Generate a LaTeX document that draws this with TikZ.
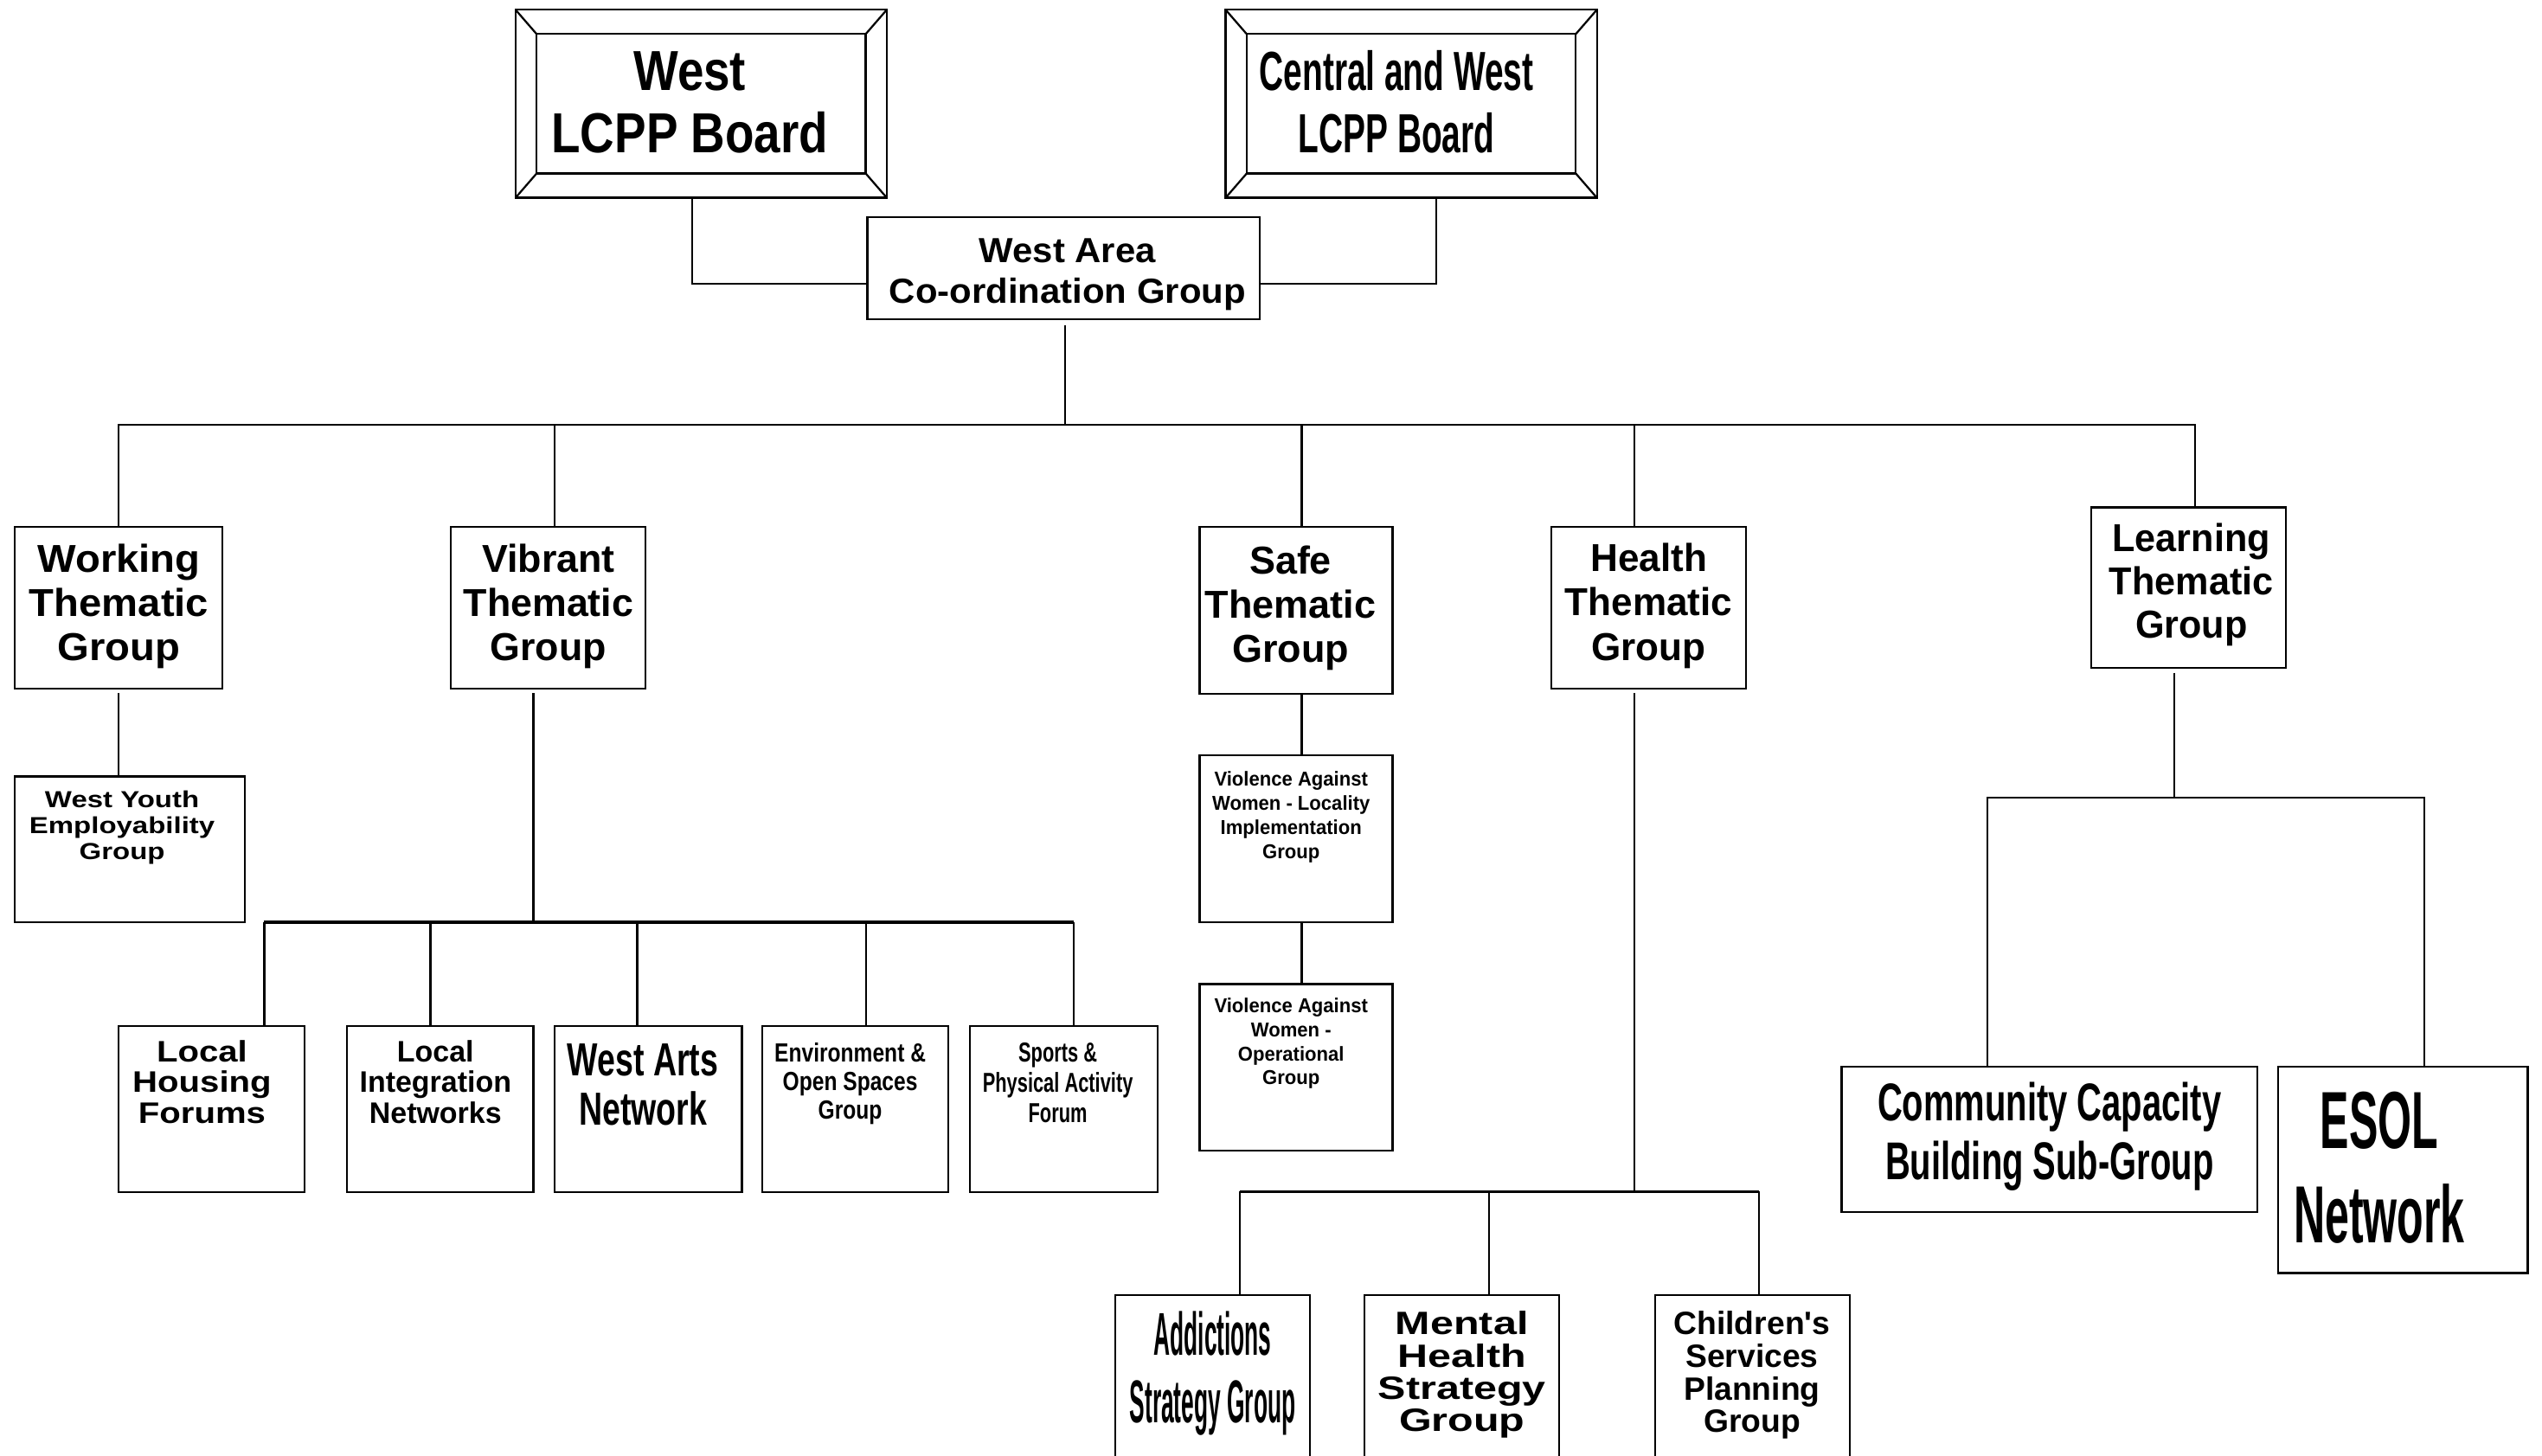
\documentclass[tikz,border=0pt]{standalone}
\usepackage{fontspec}
\setmainfont{Liberation Sans}[Ligatures=TeXOff]
\usetikzlibrary{fit}
% label font: size, horizontal stretch, line distance
\newcommand\lbl[3]{\bfseries\addfontfeatures{FakeStretch=#2}\fontsize{#1}{#3}\selectfont}
% centred lines whose baseline is the first line
\newcommand\stk[1]{\begin{tabular}[t]{@{}c@{}}#1\end{tabular}}
\begin{document}
\begin{tikzpicture}[x=1pt,y=-1pt,
  box/.style={draw, line width=1.2pt, inner sep=0pt, outer sep=0pt, rectangle},
  wire/.style={line width=1.2pt},
  thickwire/.style={line width=1.8pt},
  txt/.style={inner sep=0pt, outer sep=0pt, anchor=base}]
\fill[white] (0,0) rectangle (1568,898);
\useasboundingbox (0,0) rectangle (1568,898);
\clip (0,0) rectangle (1568,898);

% ---- boards with bevelled frames
\node[box, fit={(318,6) (547,122)}] (wb) {};
\node[box, fit={(331,21) (534,107)}] (wbi) {};
\draw[wire] (wb.north west) -- (wbi.north west) (wb.north east) -- (wbi.north east)
            (wb.south west) -- (wbi.south west) (wb.south east) -- (wbi.south east);
\node[txt, font=\lbl{34.8}{0.84}{38.3}] (wbt) at (425.5,56) {\stk{West\\LCPP Board}};

\node[box, fit={(756,6) (985,122)}] (cb) {};
\node[box, fit={(769,21) (972,107)}] (cbi) {};
\draw[wire] (cb.north west) -- (cbi.north west) (cb.north east) -- (cbi.north east)
            (cb.south west) -- (cbi.south west) (cb.south east) -- (cbi.south east);
\node[txt, font=\lbl{34}{0.61}{38.3}] (cbt) at (861.4,56) {\stk{Central and West\\LCPP Board}};

% ---- co-ordination group
\node[box, fit={(535,134) (777,197)}] (wacg) {};
\node[txt, font=\lbl{21.5}{1.04}{24.9}] (wacgt) at (658.5,161.9) {\stk{West Area\\Co-ordination Group}};

% ---- thematic groups
\node[box, fit={(9,325) (137,425)}] (wtg) {};
\node[txt, font=\lbl{24}{1.05}{27.2}] (wtgt) at (73.4,353.1) {\stk{Working\\Thematic\\Group}};
\node[box, fit={(278,325) (398,425)}] (vtg) {};
\node[txt, font=\lbl{24}{0.995}{27.2}] (vtgt) at (338.3,353.1) {\stk{Vibrant\\Thematic\\Group}};
\node[box, fit={(740,325) (859,428)}] (stg) {};
\node[txt, font=\lbl{24}{1.0}{27.2}] (stgt) at (796,354) {\stk{Safe\\Thematic\\Group}};
\node[box, fit={(957,325) (1077,425)}] (htg) {};
\node[txt, font=\lbl{24}{0.98}{27.5}] (htgt) at (1017,352.3) {\stk{Health\\Thematic\\Group}};
\node[box, fit={(1290,313) (1410,412)}] (ltg) {};
\node[txt, font=\lbl{24}{0.96}{26.6}] (ltgt) at (1351.7,340.3) {\stk{Learning\\Thematic\\Group}};

% ---- sub-groups
\node[box, fit={(9,479) (151,569)}] (wyeg) {};
\node[txt, font=\lbl{14.3}{1.23}{16}] (wyegt) at (75.3,498.1) {\stk{West Youth\\Employability\\Group}};

\node[box, fit={(740,466) (859,569)}] (val) {};
\node[txt, font=\lbl{12.4}{0.95}{14.8}] (valt) at (796.4,485.1) {\stk{Violence Against\\Women - Locality\\Implementation\\Group}};
\node[box, fit={(740,607) (859,710)}] (vao) {};
\node[txt, font=\lbl{12.4}{0.95}{14.8}] (vaot) at (796.4,624.7) {\stk{Violence Against\\Women -\\Operational\\Group}};

\node[box, fit={(73,632.8) (188,735.5)}] (lhf) {};
\node[txt, font=\lbl{18.3}{1.17}{19}] (lhft) at (124.6,655) {\stk{Local\\Housing\\Forums}};
\node[box, fit={(214,632.8) (329,735.5)}] (lin) {};
\node[txt, font=\lbl{18.3}{0.99}{19}] (lint) at (268.6,655) {\stk{Local\\Integration\\Networks}};
\node[box, fit={(342,632.8) (457.7,735.5)}] (wan) {};
\node[txt, font=\lbl{28.6}{0.70}{30.6}] (want) at (396.6,663.6) {\stk{West Arts\\Network}};
\node[box, fit={(470,632.8) (585,735.5)}] (eos) {};
\node[txt, font=\lbl{16.2}{0.81}{17.5}] (eost) at (524.4,655.2) {\stk{Environment \&\\Open Spaces\\Group}};
\node[box, fit={(598.3,632.8) (713.9,735.5)}] (spa) {};
\node[txt, font=\lbl{16.9}{0.69}{18.8}] (spat) at (652.5,655) {\stk{Sports \&\\Physical Activity\\Forum}};

\node[box, fit={(1136,658) (1392.3,747.8)}] (ccb) {};
\node[txt, font=\lbl{32.8}{0.65}{36}] (ccbt) at (1264.2,691.5) {\stk{Community Capacity\\Building Sub-Group}};
\node[box, fit={(1405.2,658) (1559.2,785.3)}] (esol) {};
\node[txt, font=\lbl{50}{0.535}{57.9}] (esolt) at (1467.6,708.7) {\stk{ESOL\\Network}};

\node[box, fit={(688,799.1) (808.2,920)}] (asg) {};
\node[txt, font=\lbl{37.3}{0.377}{41.8}] (asgt) at (748,836.1) {\stk{Addictions\\Strategy Group}};
\node[box, fit={(841.8,799.1) (961.8,920)}] (mhsg) {};
\node[txt, font=\lbl{19.9}{1.3}{19.5}] (mhsgt) at (901.8,823) {\stk{Mental\\Health\\Strategy\\Group}};
\node[box, fit={(1020.8,799.1) (1141,920)}] (cspg) {};
\node[txt, font=\lbl{19.9}{1.0}{19.5}] (cspgt) at (1080.7,823) {\stk{Children's\\Services\\Planning\\Group}};

% ---- bus levels
\coordinate (bus1) at (0,262);
\coordinate (bus2) at (0,569);
\coordinate (bus3) at (0,735);
\coordinate (bus4) at (0,492);

% ---- connectors
\draw[wire] ([xshift=-5.5pt]wb.south) |- ([yshift=-9.5pt]wacg.west);
\draw[wire] ([xshift=15.5pt]cb.south) |- ([yshift=-9.5pt]wacg.east);
\draw[wire, shorten <=3.5pt] ([xshift=1pt]wacg.south) -- ([xshift=1pt]wacg.south |- bus1);

\draw[wire] (wtg.north) -- (wtg.north |- bus1) -- ([xshift=4pt]ltg.north |- bus1) -- ([xshift=4pt]ltg.north);
\draw[wire] ([xshift=4pt]vtg.north |- bus1) -- ([xshift=4pt]vtg.north);
\draw[wire] ([xshift=3.5pt]stg.north |- bus1) -- ([xshift=3.5pt]stg.north);
\draw[wire] ([xshift=-9pt]htg.north |- bus1) -- ([xshift=-9pt]htg.north);

\draw[wire, shorten <=2.7pt] (wtg.south) -- (wtg.south |- wyeg.north);

\draw[wire, shorten <=2.7pt] ([xshift=-9pt]vtg.south) -- ([xshift=-9pt]vtg.south |- bus2);
\draw[thickwire] ([xshift=32.5pt]lhf.north |- bus2) -- ([xshift=6.3pt]spa.north |- bus2);
\draw[wire] ([xshift=32.5pt]lhf.north |- bus2) -- ([xshift=32.5pt]lhf.north);
\draw[wire] ([xshift=-6pt]lin.north |- bus2) -- ([xshift=-6pt]lin.north);
\draw[wire] ([xshift=-6.75pt]wan.north |- bus2) -- ([xshift=-6.75pt]wan.north);
\draw[wire] ([xshift=6.7pt]eos.north |- bus2) -- ([xshift=6.7pt]eos.north);
\draw[wire] ([xshift=6.3pt]spa.north |- bus2) -- ([xshift=6.3pt]spa.north);

\draw[wire] ([xshift=3.5pt]stg.south) -- ([xshift=3.5pt]stg.south |- val.north);
\draw[wire] ([xshift=3.5pt]val.south) -- ([xshift=3.5pt]val.south |- vao.north);

\draw[wire, shorten <=2.7pt] ([xshift=-8.8pt]htg.south) -- ([xshift=-8.8pt]htg.south |- bus3);
\draw[thickwire] ([xshift=16.7pt]asg.north |- bus3) -- ([xshift=4.1pt]cspg.north |- bus3);
\draw[wire] ([xshift=16.7pt]asg.north |- bus3) -- ([xshift=16.7pt]asg.north);
\draw[wire] ([xshift=16.6pt]mhsg.north |- bus3) -- ([xshift=16.6pt]mhsg.north);
\draw[wire] ([xshift=4.1pt]cspg.north |- bus3) -- ([xshift=4.1pt]cspg.north);

\draw[wire, shorten <=3pt] ([xshift=-9pt]ltg.south) -- ([xshift=-9pt]ltg.south |- bus4);
\draw[wire] ([xshift=-38.2pt]ccb.north) -- ([xshift=-38.2pt]ccb.north |- bus4)
            -- ([xshift=13.1pt]esol.north |- bus4) -- ([xshift=13.1pt]esol.north);
\end{tikzpicture}
\end{document}
